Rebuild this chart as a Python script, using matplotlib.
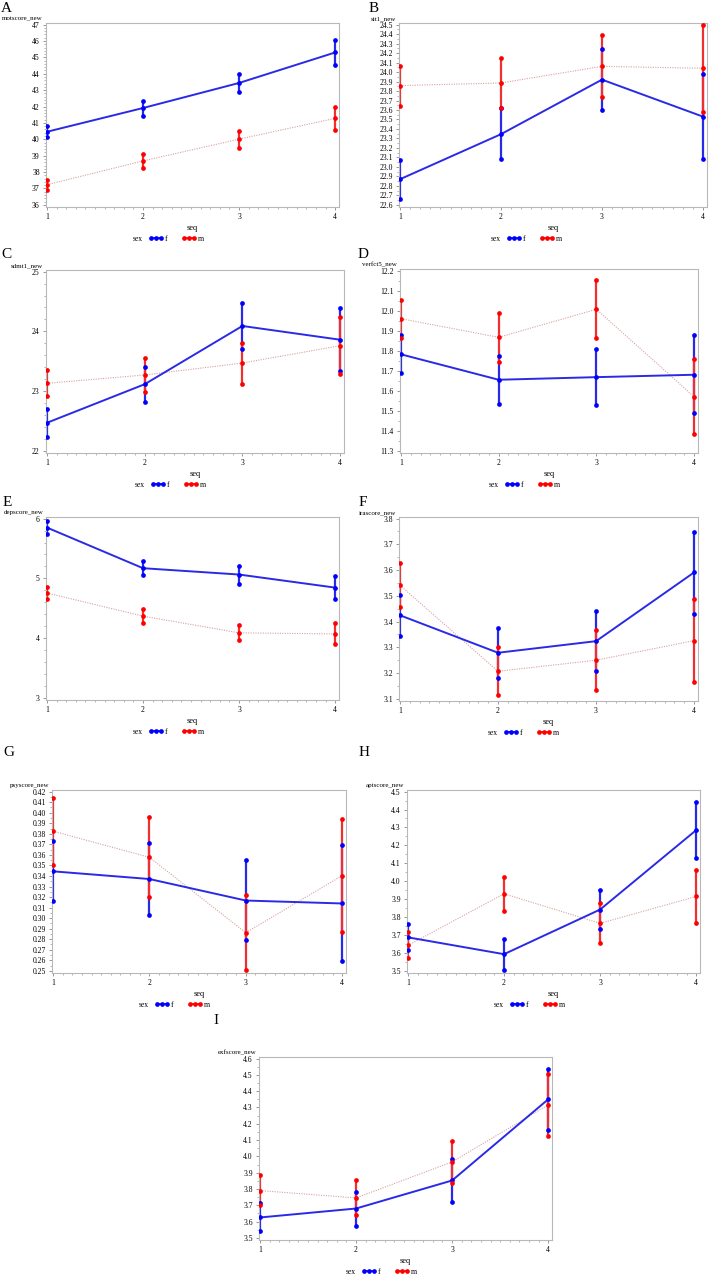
import matplotlib

matplotlib.use("Agg")
import matplotlib.pyplot as plt
import numpy as np
from matplotlib.lines import Line2D
from matplotlib.ticker import AutoMinorLocator, FormatStrFormatter

plt.rcParams["font.family"] = ["Liberation Serif", "DejaVu Serif"]

W, H = 709, 1281
SEQ = [1, 2, 3, 4]

# ---------------------------------------------------------------------------
# Data: mean and 95% CI limits per visit (seq), female (f) and male (m)
# ---------------------------------------------------------------------------
mot_f = [40.46, 41.91, 43.44, 45.30]
mot_f_lo = [40.13, 41.42, 42.89, 44.53]
mot_f_hi = [40.81, 42.34, 44.00, 46.04]
mot_m = [37.23, 38.68, 40.01, 41.28]
mot_m_lo = [36.88, 38.27, 39.48, 40.58]
mot_m_hi = [37.53, 39.11, 40.52, 41.97]

sit_f = [22.87, 23.345, 23.92, 23.53]
sit_f_lo = [22.66, 23.08, 23.60, 23.08]
sit_f_hi = [23.077, 23.62, 24.24, 23.98]
sit_m = [23.857, 23.885, 24.06, 24.04]
sit_m_lo = [23.645, 23.62, 23.74, 23.58]
sit_m_hi = [24.06, 24.15, 24.39, 24.50]

sdmt_f = [22.47, 23.115, 24.09, 23.86]
sdmt_f_lo = [22.24, 22.81, 23.70, 23.34]
sdmt_f_hi = [22.70, 23.41, 24.47, 24.39]
sdmt_m = [23.13, 23.27, 23.47, 23.76]
sdmt_m_lo = [22.91, 22.99, 23.115, 23.29]
sdmt_m_hi = [23.36, 23.56, 23.81, 24.24]

verf_f = [11.782, 11.655, 11.668, 11.68]
verf_f_lo = [11.688, 11.533, 11.527, 11.488]
verf_f_hi = [11.877, 11.772, 11.81, 11.877]
verf_m = [11.96, 11.867, 12.007, 11.57]
verf_m_lo = [11.863, 11.742, 11.862, 11.382]
verf_m_hi = [12.055, 11.99, 12.152, 11.76]

dep_f = [5.85, 5.17, 5.064, 4.845]
dep_f_lo = [5.748, 5.053, 4.912, 4.66]
dep_f_hi = [5.956, 5.294, 5.21, 5.04]
dep_m = [4.755, 4.368, 4.088, 4.07]
dep_m_lo = [4.655, 4.25, 3.96, 3.897]
dep_m_hi = [4.856, 4.48, 4.222, 4.245]

ira_f = [3.4245, 3.279, 3.324, 3.591]
ira_f_lo = [3.346, 3.181, 3.209, 3.431]
ira_f_hi = [3.504, 3.377, 3.443, 3.749]
ira_m = [3.541, 3.207, 3.250, 3.326]
ira_m_lo = [3.457, 3.113, 3.134, 3.165]
ira_m_hi = [3.627, 3.303, 3.366, 3.486]

psy_f = [0.3444, 0.3371, 0.3167, 0.3139]
psy_f_lo = [0.3158, 0.3028, 0.2789, 0.2589]
psy_f_hi = [0.3736, 0.3714, 0.3552, 0.3692]
psy_m = [0.3825, 0.3577, 0.2862, 0.3403]
psy_m_lo = [0.3507, 0.3196, 0.2506, 0.2865]
psy_m_hi = [0.4143, 0.3959, 0.3218, 0.3936]

apt_f = [3.687, 3.593, 3.842, 4.285]
apt_f_lo = [3.618, 3.506, 3.732, 4.128]
apt_f_hi = [3.762, 3.679, 3.952, 4.442]
apt_m = [3.642, 3.93, 3.765, 3.915]
apt_m_lo = [3.569, 3.836, 3.655, 3.765]
apt_m_hi = [3.715, 4.023, 3.876, 4.064]

exf_f = [3.625, 3.68, 3.852, 4.35]
exf_f_lo = [3.539, 3.574, 3.723, 4.162]
exf_f_hi = [3.713, 3.784, 3.983, 4.539]
exf_m = [3.79, 3.745, 3.966, 4.316]
exf_m_lo = [3.70, 3.639, 3.837, 4.126]
exf_m_hi = [3.884, 3.854, 4.097, 4.508]

# y-axis tick ranges (start, stop, step)
ticks_mot = (36, 47, 1)
ticks_sit = (22.6, 24.5, 0.1)
ticks_sdmt = (22, 25, 1)
ticks_verf = (11.3, 12.2, 0.1)
ticks_dep = (3, 6, 1)
ticks_ira = (3.1, 3.8, 0.1)
ticks_psy = (0.25, 0.42, 0.01)
ticks_apt = (3.5, 4.5, 0.1)
ticks_exf = (3.5, 4.6, 0.1)

BLUE = "#0000ff"
RED = "#ff0000"
BAR_BLUE = "#2a2ae6"
BAR_RED = "#f03030"
DOT_RED = "#d9a0a0"
FRAME = "#b8b8b8"


def panel(rect, letter, letter_xy, ylabel, ticks, fmt,
          f, f_lo, f_hi, m, m_lo, m_hi):
    l, r, t, b = rect
    ax = plt.gcf().add_axes([l / W, 1 - b / H, (r - l) / W, (b - t) / H])
    x = np.array(SEQ)

    # CI bars
    ax.vlines(x, f_lo, f_hi, color=BAR_BLUE, lw=1.6, zorder=2)
    ax.vlines(x, m_lo, m_hi, color=BAR_RED, lw=1.6, zorder=2)
    # mean profiles
    ax.plot(x, m, color=DOT_RED, lw=0.8, ls=(0, (1, 1.2)), zorder=3)
    ax.plot(x, f, color=BAR_BLUE, lw=1.4, zorder=3)
    # markers at mean / lower / upper
    for vals in (f_lo, f, f_hi):
        ax.plot(x, vals, "o", color=BLUE, ms=3.4, mec="none", zorder=4)
    for vals in (m_lo, m, m_hi):
        ax.plot(x, vals, "o", color=RED, ms=3.4, mec="none", zorder=5)

    lo, hi, step = ticks
    yt = np.arange(lo, hi + step / 2, step)
    span = hi - lo
    ax.set_ylim(lo - 0.012 * span, hi + 0.009 * span)
    ax.set_yticks(yt)
    ax.yaxis.set_major_formatter(FormatStrFormatter(fmt))
    ax.set_xlim(0.99, 4.04)
    ax.set_xticks(SEQ)
    ax.xaxis.set_minor_locator(AutoMinorLocator(10))
    ax.yaxis.set_minor_locator(AutoMinorLocator(2 if step < 1 else 5))
    ax.tick_params(which="major", length=2.5, width=0.6, color="#888888",
                   labelsize=5.5, pad=2)
    ax.tick_params(which="minor", length=1.5, width=0.5, color="#999999")
    for s in ax.spines.values():
        s.set_color(FRAME)
        s.set_linewidth(0.8)

    ax.text(-3 / (r - l), 1 + 2 / (b - t), ylabel, transform=ax.transAxes,
            ha="right", va="bottom", fontsize=5.0)
    ax.text(0.5, -21 / (b - t), "seq", transform=ax.transAxes,
            ha="center", va="center", fontsize=6)

    # legend row: "sex  ●●● f  ●●● m"
    ax.text(0.33, -32 / (b - t), "sex", transform=ax.transAxes,
            ha="right", va="center", fontsize=5.5)
    handles = [Line2D([], [], color=BLUE, marker="o", ms=3.4, lw=1.2,
                      mec="none"),
               Line2D([], [], color=RED, marker="o", ms=3.4, lw=1.2,
                      mec="none")]
    ax.legend(handles, ["f", "m"], ncol=2, numpoints=3, handlelength=1.9,
              handletextpad=0.2, columnspacing=1.9, frameon=False,
              fontsize=5.5, loc="center left",
              bbox_to_anchor=(0.35, -32 / (b - t)), borderpad=0,
              borderaxespad=0)

    plt.gcf().text(letter_xy[0] / W, 1 - letter_xy[1] / H, letter,
                   ha="center", va="center", fontsize=11)
    return ax


fig = plt.figure(figsize=(W / 100, H / 100), dpi=100)
fig.patch.set_facecolor("white")

panel((46, 339, 23, 207), "A", (6, 8), "motscore_new", ticks_mot, "%d",
      mot_f, mot_f_lo, mot_f_hi, mot_m, mot_m_lo, mot_m_hi)
panel((399, 707, 23, 207), "B", (374, 8), "sit1_new", ticks_sit, "%.1f",
      sit_f, sit_f_lo, sit_f_hi, sit_m, sit_m_lo, sit_m_hi)
panel((46, 344, 270, 453), "C", (6, 254), "sdmt1_new", ticks_sdmt, "%d",
      sdmt_f, sdmt_f_lo, sdmt_f_hi, sdmt_m, sdmt_m_lo, sdmt_m_hi)
panel((400, 698, 269, 453), "D", (363, 254), "verfct5_new", ticks_verf, "%.1f",
      verf_f, verf_f_lo, verf_f_hi, verf_m, verf_m_lo, verf_m_hi)
panel((46, 339, 517, 700), "E", (7, 503), "depscore_new", ticks_dep, "%d",
      dep_f, dep_f_lo, dep_f_hi, dep_m, dep_m_lo, dep_m_hi)
panel((399, 698, 517, 701), "F", (363, 503), "irascore_new", ticks_ira, "%.1f",
      ira_f, ira_f_lo, ira_f_hi, ira_m, ira_m_lo, ira_m_hi)
panel((52, 346, 790, 973), "G", (9, 752), "psyscore_new", ticks_psy, "%.2f",
      psy_f, psy_f_lo, psy_f_hi, psy_m, psy_m_lo, psy_m_hi)
panel((407, 700, 790, 973), "H", (364, 752), "aptscore_new", ticks_apt, "%.1f",
      apt_f, apt_f_lo, apt_f_hi, apt_m, apt_m_lo, apt_m_hi)
panel((259, 552, 1057, 1240), "I", (216, 1020), "exfscore_new", ticks_exf, "%.1f",
      exf_f, exf_f_lo, exf_f_hi, exf_m, exf_m_lo, exf_m_hi)

fig.savefig("out.png", dpi=100, facecolor="white")
